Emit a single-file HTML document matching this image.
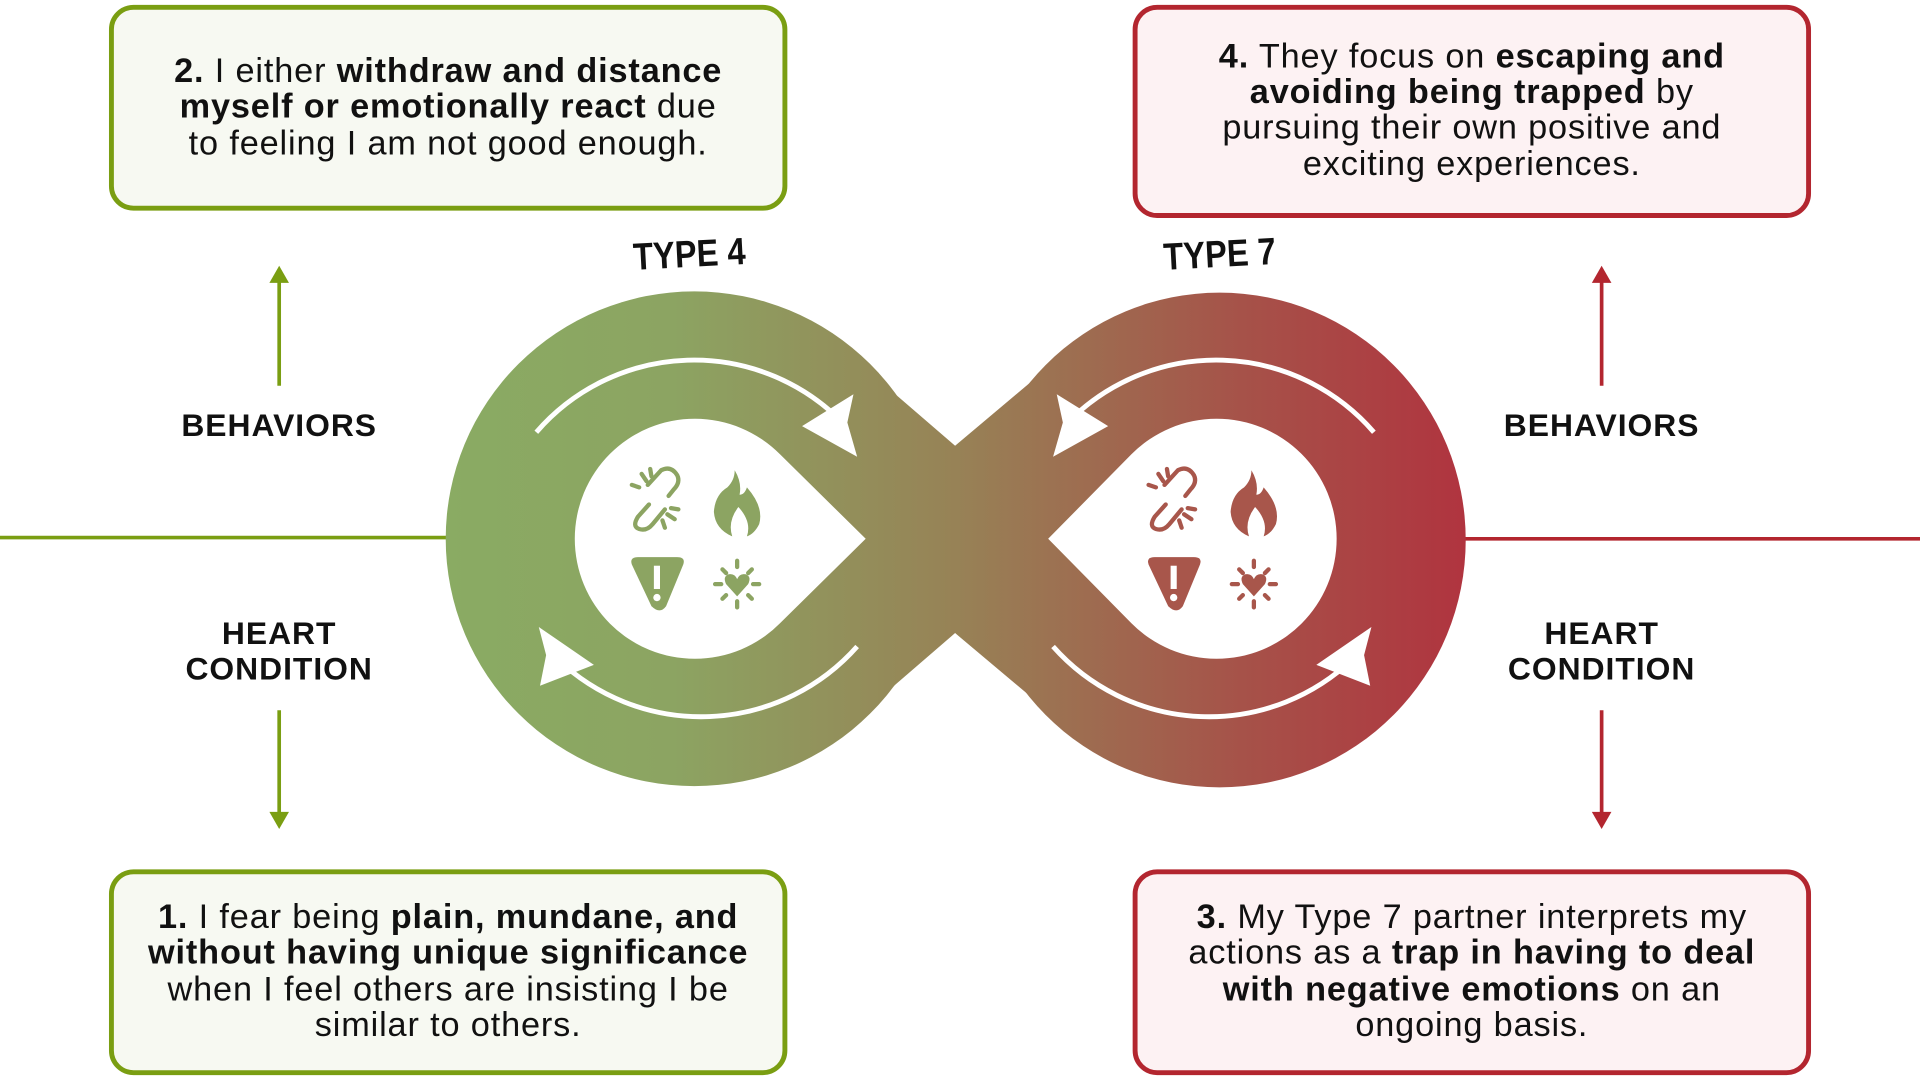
<!DOCTYPE html>
<html><head><meta charset="utf-8"><style>
html,body{margin:0;padding:0;background:#fff;}
svg{display:block;}
text{font-family:"Liberation Sans",sans-serif;fill:#111;}
.t{font-size:28px;letter-spacing:0.7px;}
.b{font-weight:bold;}
.lbl{font-size:26px;font-weight:bold;letter-spacing:0.8px;}
</style></head><body>
<svg width="1920" height="1080" viewBox="0 0 1568 882" xmlns="http://www.w3.org/2000/svg">
<defs>
<linearGradient id="g" gradientUnits="userSpaceOnUse" x1="365" y1="0" x2="1197" y2="0">
<stop offset="0" stop-color="#8aab63"/>
<stop offset="0.22" stop-color="#8ca462"/>
<stop offset="0.5" stop-color="#978256"/>
<stop offset="0.78" stop-color="#a65249"/>
<stop offset="1" stop-color="#b0343f"/>
</linearGradient>
<g id="ic">
<g fill="none" stroke-width="3.5" stroke-linecap="round">
<path d="M529,396 L540,384 Q548,380 553,388 Q556,394 550,400 L546,405"/>
<path d="M530,412 L521,422 Q516,430 522,432 Q528,434 533,428 L543,416"/>
<path d="M528,393 L524,387 M522,398 L516,396 M532,389 L531,383 M545,420 L551,424 M541,425 L543,431 M548,415 L554,416"/>
</g>
<path stroke="none" d="M600,384 Q606,394 604,404 Q608,404 610,398 Q624,414 620,428 Q616,436 610,438 Q614,426 603,414 Q594,426 598,438 Q584,432 583,418 Q584,404 594,398 Q600,392 600,384Z"/>
<path stroke="none" d="M516,461 Q514,455 521,455 L553,455 Q560,455 558,461 L544,495 Q539,502 532,495Z"/>
<rect x="534" y="462" width="5" height="19" fill="#fff" stroke="none"/>
<circle cx="536.5" cy="488" r="3" fill="#fff" stroke="none"/>
<path stroke="none" d="M602,487 L593,477 Q590,471 595,469 Q600,468 602,473 Q604,468 609,469 Q614,471 611,477Z"/>
<g stroke-width="3.5" stroke-linecap="round">
<path d="M602,458 L602,463 M602,491 L602,496 M584,477 L589,477 M615,477 L620,477 M590,465 L593,468 M614,465 L611,468 M590,489 L593,486 M614,489 L611,486"/>
</g>
</g>
</defs>
<!-- boxes -->
<rect x="91" y="6" width="550" height="164" rx="18" fill="#f7f9f2" stroke="#7a9e12" stroke-width="4"/>
<rect x="927" y="6" width="550" height="170" rx="18" fill="#fdf2f3" stroke="#b3262f" stroke-width="4"/>
<rect x="91" y="712" width="550" height="164" rx="18" fill="#f7f9f2" stroke="#7a9e12" stroke-width="4"/>
<rect x="927" y="712" width="550" height="164" rx="18" fill="#fdf2f3" stroke="#b3262f" stroke-width="4"/>

<g class="t" text-anchor="middle">
<text x="366" y="67"><tspan class="b">2.</tspan> I either <tspan class="b">withdraw and distance</tspan></text>
<text x="366" y="96"><tspan class="b">myself or emotionally react</tspan> due</text>
<text x="366" y="126">to feeling I am not good enough.</text>

<text x="1202" y="55"><tspan class="b">4.</tspan> They focus on <tspan class="b">escaping and</tspan></text>
<text x="1202" y="84"><tspan class="b">avoiding being trapped</tspan> by</text>
<text x="1202" y="113">pursuing their own positive and</text>
<text x="1202" y="143">exciting experiences.</text>

<text x="366" y="758"><tspan class="b">1.</tspan> I fear being <tspan class="b">plain, mundane, and</tspan></text>
<text x="366" y="787"><tspan class="b">without having unique significance</tspan></text>
<text x="366" y="817">when I feel others are insisting I be</text>
<text x="366" y="846">similar to others.</text>

<text x="1202" y="758"><tspan class="b">3.</tspan> My Type 7 partner interprets my</text>
<text x="1202" y="787">actions as a <tspan class="b">trap in having to deal</tspan></text>
<text x="1202" y="817"><tspan class="b">with negative emotions</tspan> on an</text>
<text x="1202" y="846">ongoing basis.</text>
</g>

<line x1="0" y1="439" x2="366" y2="439" stroke="#7a9e12" stroke-width="3"/>
<line x1="1196" y1="440" x2="1568" y2="440" stroke="#b3262f" stroke-width="3"/>

<line x1="228" y1="315" x2="228" y2="228" stroke="#7a9e12" stroke-width="3"/>
<polygon points="228,217 220,231 236,231" fill="#7a9e12"/>
<line x1="228" y1="580" x2="228" y2="666" stroke="#7a9e12" stroke-width="3"/>
<polygon points="228,677 220,663 236,663" fill="#7a9e12"/>
<line x1="1308" y1="315" x2="1308" y2="228" stroke="#b3262f" stroke-width="3"/>
<polygon points="1308,217 1300,231 1316,231" fill="#b3262f"/>
<line x1="1308" y1="580" x2="1308" y2="666" stroke="#b3262f" stroke-width="3"/>
<polygon points="1308,677 1300,663 1316,663" fill="#b3262f"/>

<g class="lbl" text-anchor="middle">
<text x="228" y="356">BEHAVIORS</text>
<text x="228" y="526">HEART</text>
<text x="228" y="555">CONDITION</text>
<text x="1308" y="356">BEHAVIORS</text>
<text x="1308" y="526">HEART</text>
<text x="1308" y="555">CONDITION</text>
</g>

<text x="563" y="218" text-anchor="middle" font-size="31" font-weight="bold" transform="rotate(-3 563 208) translate(563 0) scale(0.86 1) translate(-563 0)">TYPE 4</text>
<text x="996" y="218" text-anchor="middle" font-size="31" font-weight="bold" transform="rotate(-3 996 208) translate(996 0) scale(0.86 1) translate(-996 0)">TYPE 7</text>

<g fill="url(#g)">
<ellipse cx="567" cy="440" rx="203" ry="202"/>
<ellipse cx="996" cy="441" rx="201" ry="202"/>
<polygon points="700,295 780,364 862,295 862,586 780,517 700,586"/>
</g>
<path d="M707,440 L637,371 A98,98 0 1 0 637,509 Z" fill="#fff"/>
<path d="M856,440 L924,371 A98,98 0 1 1 924,509 Z" fill="#fff"/>

<g fill="none" stroke="#fff" stroke-width="4">
<path d="M438,353 A170,170 0 0 1 688,345"/>
<path d="M1122,353 A170,170 0 0 0 872,345"/>
<path d="M700,528 A170,170 0 0 1 455,538"/>
<path d="M860,528 A170,170 0 0 0 1105,538"/>
</g>
<g fill="#fff">
<polygon points="700,373 655,348 697,322 692,345"/>
<polygon points="860,373 905,348 863,322 868,345"/>
<polygon points="440,512 485,543 441,560 446,535"/>
<polygon points="1120,512 1075,543 1119,560 1114,535"/>
</g>

<use href="#ic" fill="#8ca462" stroke="#8ca462"/>
<use href="#ic" x="422" y="0" fill="#a8564b" stroke="#a8564b"/>
</svg>
</body></html>
